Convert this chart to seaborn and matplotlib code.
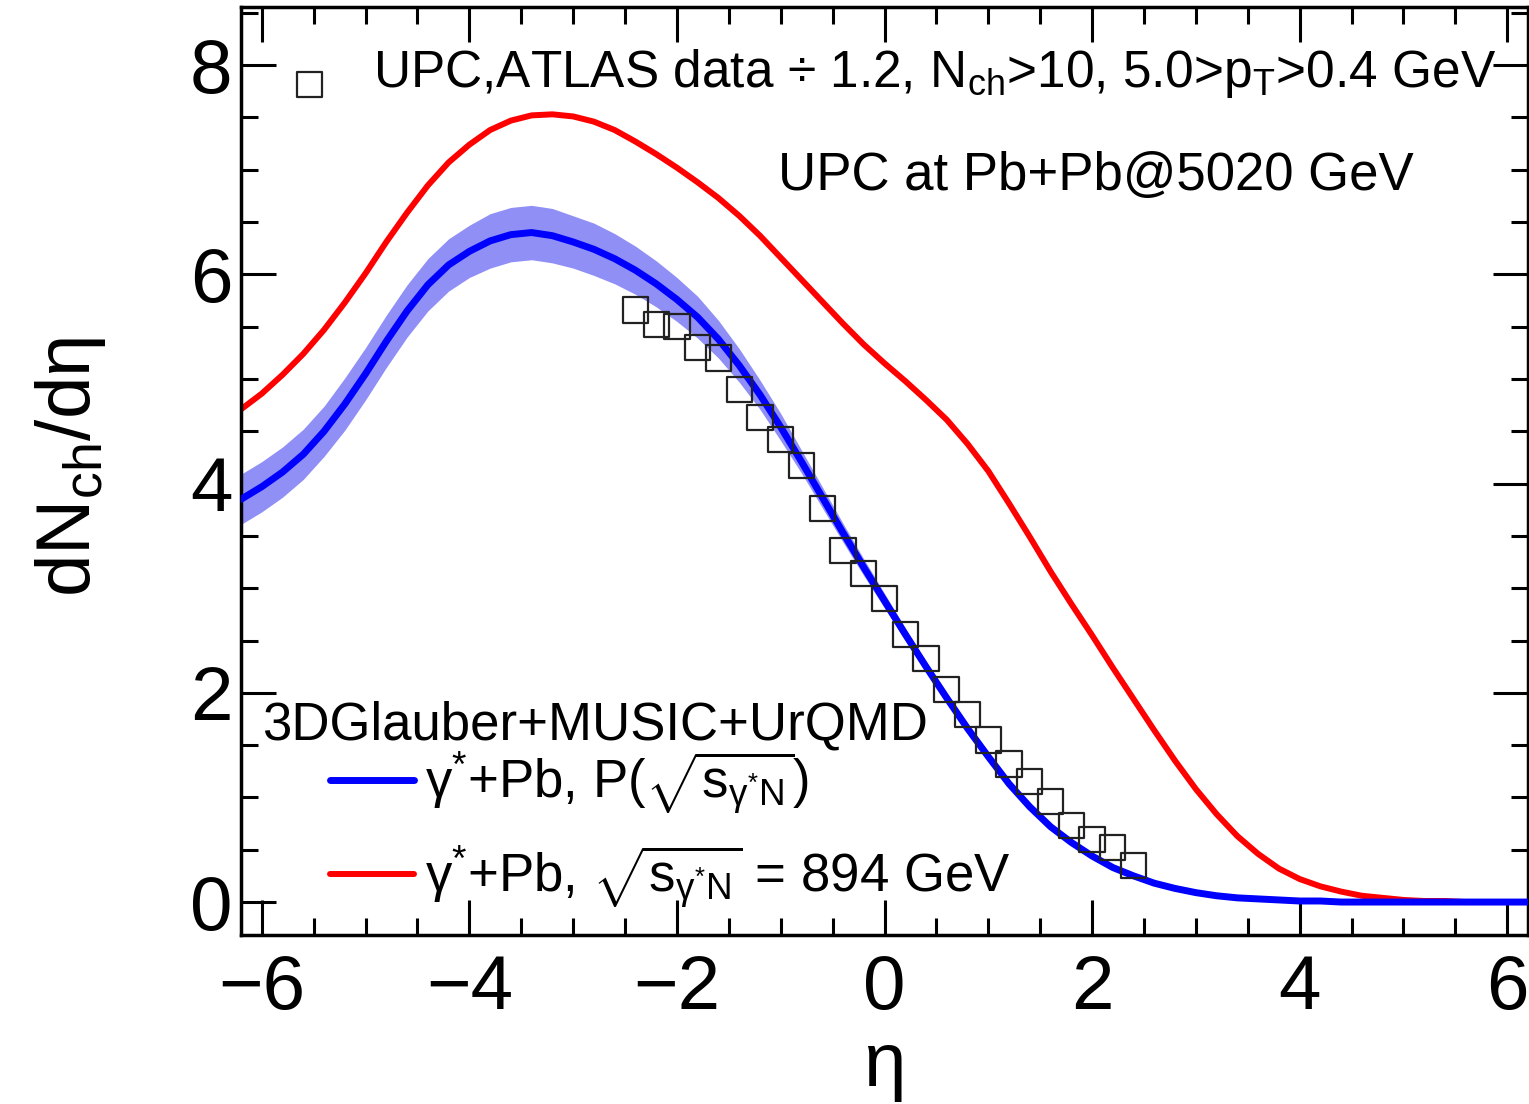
import matplotlib
matplotlib.use("Agg")
import matplotlib.pyplot as plt
import seaborn as sns
from matplotlib.ticker import MultipleLocator

# ---------------- data ----------------
eta = [-6.2, -6.0, -5.8, -5.6, -5.4, -5.2, -5.0, -4.8, -4.6, -4.4, -4.2, -4.0,
       -3.8, -3.6, -3.4, -3.2, -3.0, -2.8, -2.6, -2.4, -2.2, -2.0, -1.8, -1.6,
       -1.4, -1.2, -1.0, -0.8, -0.6, -0.4, -0.2, 0.0, 0.2, 0.4, 0.6, 0.8, 1.0,
       1.2, 1.4, 1.6, 1.8, 2.0, 2.2, 2.4, 2.6, 2.8, 3.0, 3.2, 3.4, 3.6, 3.8,
       4.0, 4.2, 4.4, 4.6, 4.8, 5.0, 5.2, 5.4, 5.6, 5.8, 6.0, 6.2]

# gamma*+Pb, P(sqrt s) : mean and uncertainty band half-width
blue_mean = [3.85, 3.97, 4.11, 4.28, 4.50, 4.76, 5.05, 5.36, 5.65, 5.90, 6.09, 6.22,
             6.32, 6.38, 6.40, 6.37, 6.31, 6.24, 6.15, 6.04, 5.91, 5.76, 5.59, 5.38,
             5.13, 4.85, 4.54, 4.21, 3.87, 3.53, 3.20, 2.88, 2.56, 2.25, 1.95, 1.66, 1.39,
             1.13, 0.91, 0.72, 0.57, 0.44, 0.33, 0.25, 0.18, 0.13, 0.09, 0.06, 0.04, 0.03, 0.02,
             0.01, 0.01, 0.0, 0.0, 0.0, 0.0, 0.0, 0.0, 0.0, 0.0, 0.0, 0.0]
blue_err = [0.24, 0.24, 0.24, 0.24, 0.24, 0.25, 0.25, 0.25, 0.25, 0.25, 0.25, 0.25,
            0.26, 0.26, 0.26, 0.26, 0.25, 0.25, 0.24, 0.23, 0.22, 0.21, 0.20, 0.18,
            0.16, 0.14, 0.13, 0.11, 0.10, 0.09, 0.08, 0.07, 0.06, 0.05, 0.05, 0.04, 0.04,
            0.03, 0.03, 0.02, 0.02, 0.02, 0.01, 0.01, 0.01, 0.01, 0.01, 0.0, 0.0, 0.0, 0.0,
            0.0, 0.0, 0.0, 0.0, 0.0, 0.0, 0.0, 0.0, 0.0, 0.0, 0.0, 0.0]

# gamma*+Pb, sqrt s = 894 GeV
red_mean = [4.71, 4.86, 5.04, 5.24, 5.47, 5.73, 6.01, 6.31, 6.59, 6.85, 7.07, 7.24,
            7.38, 7.47, 7.52, 7.53, 7.51, 7.46, 7.38, 7.27, 7.15, 7.02, 6.88, 6.73,
            6.56, 6.37, 6.16, 5.95, 5.74, 5.53, 5.33, 5.15, 4.98, 4.80, 4.61, 4.38, 4.12,
            3.81, 3.49, 3.16, 2.85, 2.55, 2.24, 1.94, 1.64, 1.35, 1.08, 0.84, 0.63, 0.46, 0.32,
            0.22, 0.15, 0.10, 0.06, 0.04, 0.02, 0.01, 0.01, 0.0, 0.0, 0.0, 0.0]

# ATLAS UPC data / 1.2
data_eta = [-2.4, -2.2, -2.0, -1.8, -1.6, -1.4, -1.2, -1.0, -0.8, -0.6, -0.4, -0.2,
            0.0, 0.2, 0.4, 0.6, 0.8, 1.0, 1.2, 1.4, 1.6, 1.8, 2.0, 2.2, 2.4]
data_val = [5.66, 5.52, 5.50, 5.30, 5.20, 4.90, 4.63, 4.42, 4.17, 3.76, 3.36, 3.14,
            2.90, 2.56, 2.33, 2.03, 1.79, 1.55, 1.32, 1.15, 0.96, 0.73, 0.60, 0.52, 0.35]

x_ticks = [-6, -4, -2, 0, 2, 4, 6]
y_ticks = [0, 2, 4, 6, 8]

label_data = r"UPC,ATLAS data $\div$ 1.2, N$_{\rm ch}$>10, 5.0>p$_{\rm T}$>0.4 GeV"
label_blue = r"γ$^{*}$+Pb, P($\sqrt{\rm s_{γ^{*}N}}$)"
label_red = r"γ$^{*}$+Pb, $\sqrt{\rm s_{γ^{*}N}}$ = 894 GeV"
text_system = "UPC at Pb+Pb@5020 GeV"
text_model = "3DGlauber+MUSIC+UrQMD"

# ---------------- style ----------------
sns.set_theme(style="ticks")
plt.rcParams["font.family"] = ["Liberation Sans", "DejaVu Sans"]
plt.rcParams["mathtext.fontset"] = "custom"
plt.rcParams["mathtext.rm"] = "Liberation Sans"
plt.rcParams["mathtext.it"] = "Liberation Sans"
plt.rcParams["mathtext.bf"] = "Liberation Sans:bold"
plt.rcParams["mathtext.sf"] = "Liberation Sans"
plt.rcParams["axes.unicode_minus"] = True
for key in ["text.color", "axes.labelcolor", "xtick.color", "ytick.color",
            "xtick.labelcolor", "ytick.labelcolor", "axes.edgecolor"]:
    plt.rcParams[key] = "black"

W, H = 1529, 1104
fig = plt.figure(figsize=(W / 100, H / 100), dpi=100)
ax_l, ax_r, ax_t, ax_b = 241, 1528, 7, 935
ax = fig.add_axes([ax_l / W, (H - ax_b) / H, (ax_r - ax_l) / W, (ax_b - ax_t) / H])

def fx(px):
    return (px - ax_l) / (ax_r - ax_l)

def fy(py):
    return (ax_b - py) / (ax_b - ax_t)

lo = [m - e for m, e in zip(blue_mean, blue_err)]
hi = [m + e for m, e in zip(blue_mean, blue_err)]
ax.fill_between(eta, lo, hi, color="#8f8ff6", lw=0, zorder=1)
sns.lineplot(x=eta, y=blue_mean, ax=ax, color="#0000ff", lw=5.0, zorder=3,
             label=label_blue, legend=False)
sns.lineplot(x=eta, y=red_mean, ax=ax, color="#ff0000", lw=4.3, zorder=2,
             label=label_red, legend=False)
for ln in ax.lines:
    ln.set_solid_joinstyle("round")
sns.scatterplot(x=data_eta, y=data_val, ax=ax, marker="s", s=330,
                facecolor="none", edgecolor="#222222", linewidth=1.6,
                zorder=4, legend=False)
sc = ax.collections[-1]
sc.set_facecolor("none")
sc.set_edgecolor("#222222")

ax.set_xlim(-6.2, 6.2)
ax.set_ylim(-0.315, 8.556)
ax.set_xticks(x_ticks)
ax.set_yticks(y_ticks)
ax.xaxis.set_minor_locator(MultipleLocator(0.5))
ax.yaxis.set_minor_locator(MultipleLocator(0.5))
ax.tick_params(which="both", direction="in", top=True, right=True,
               width=2.2, color="black")
ax.tick_params(which="major", length=25)
ax.tick_params(which="minor", length=12)
ax.tick_params(axis="x", which="major", labelsize=55, pad=14)
ax.tick_params(axis="y", which="major", labelsize=55, pad=6)
for sp in ax.spines.values():
    sp.set_linewidth(2.5)
    sp.set_color("black")

ax.set_xlabel("η", fontsize=55)
ax.set_ylabel(r"dN$_{\rm ch}$/dη", fontsize=55)
ax.xaxis.set_label_coords(0.5, fy(1031))
ax.yaxis.set_label_coords(fx(108), 0.504)

ax.text(fx(778), fy(190), text_system, fontsize=38, ha="left", va="baseline",
        transform=ax.transAxes)
ax.text(fx(262), fy(740), text_model, fontsize=38, ha="left", va="baseline",
        transform=ax.transAxes)
ax.text(fx(373), fy(87), label_data, fontsize=37, ha="left", va="baseline",
        transform=ax.transAxes)

# legend marker for the data (its text is drawn alongside)
leg1 = ax.legend(handles=[sc], labels=[" "], loc="center left",
                 bbox_to_anchor=(fx(290), fy(84)), frameon=False, fontsize=38,
                 handlelength=0.75, handletextpad=0.0, borderpad=0,
                 borderaxespad=0, scatterpoints=1)
ax.add_artist(leg1)

leg2 = ax.legend(handles=[ax.lines[0], ax.lines[1]], labels=[label_blue, label_red],
                 loc="upper left", bbox_to_anchor=(fx(330), fy(750)), frameon=False,
                 fontsize=38, handlelength=1.6, handletextpad=0.2, labelspacing=0.5,
                 borderpad=0, borderaxespad=0)

fig.savefig("out.png", dpi=100)
